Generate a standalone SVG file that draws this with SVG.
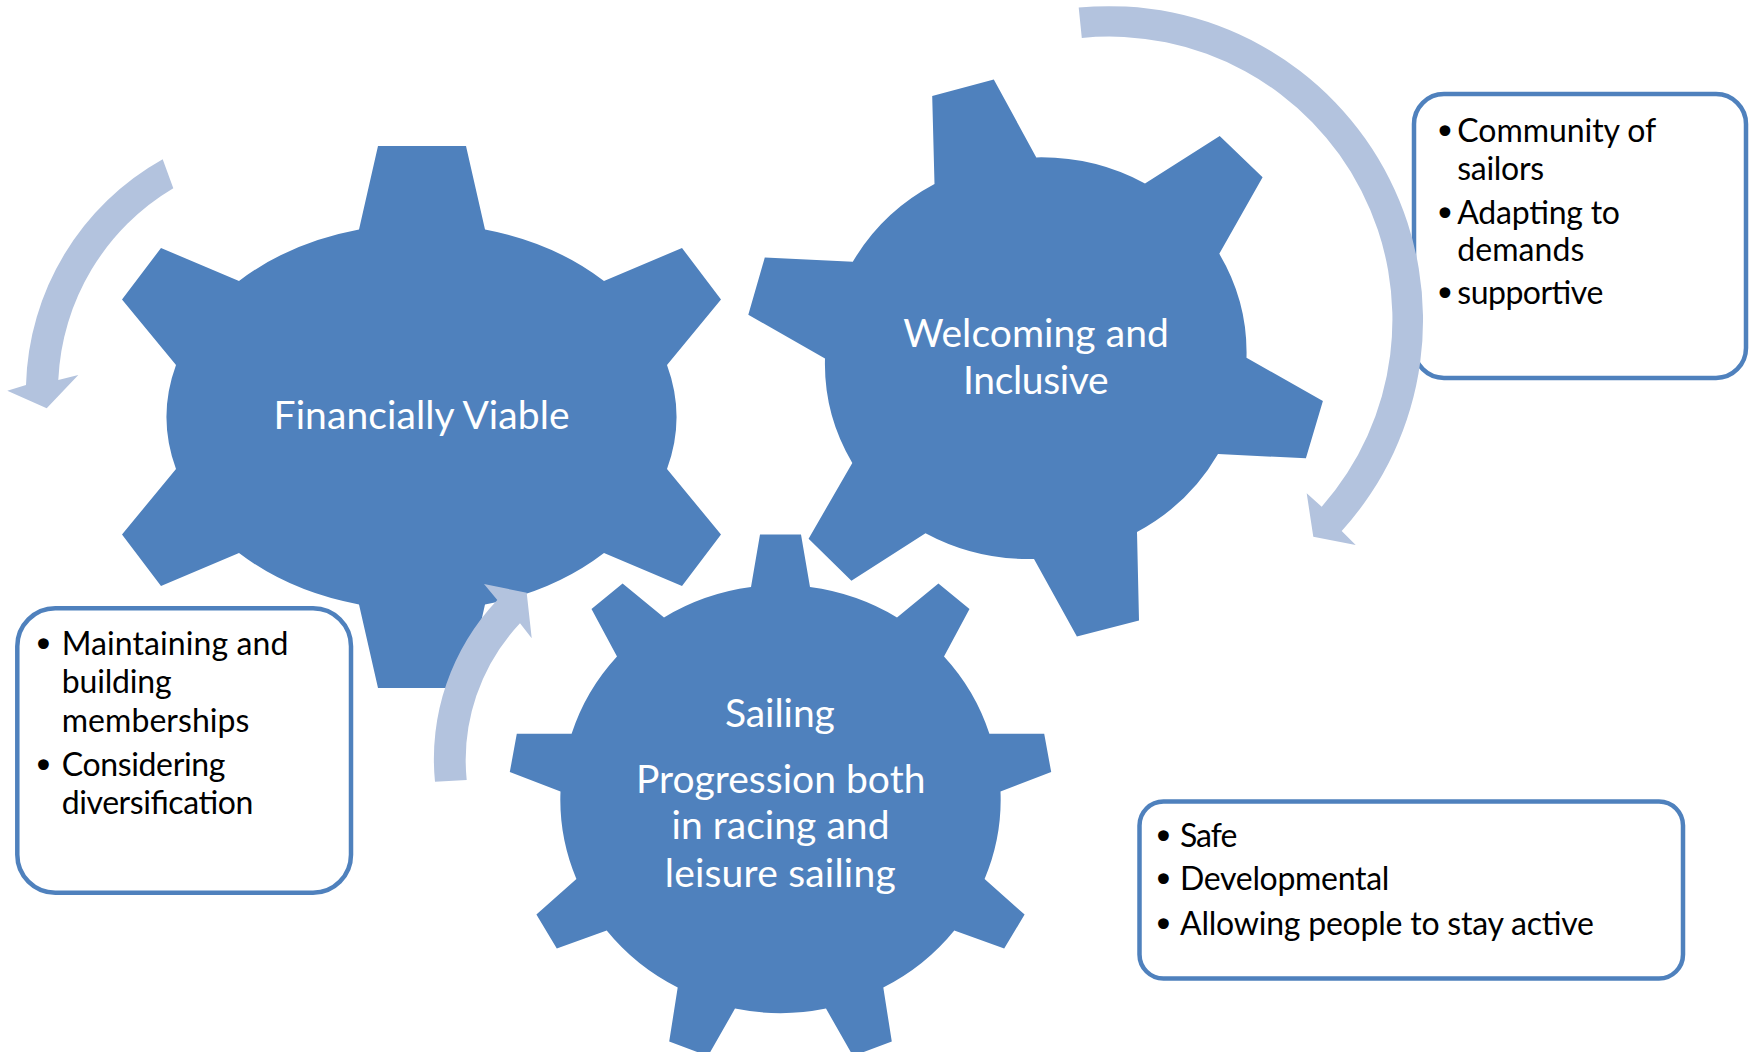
<svg xmlns="http://www.w3.org/2000/svg" width="1754" height="1052" viewBox="0 0 1754 1052">
  <style>
    .gear { fill: #4F81BD; }
    .arrow { fill: #B3C3DE; }
    .box { fill: #FFFFFF; stroke: #4F81BD; stroke-width: 4.5; }
    .gt { font-family: Lato, "Open Sans", sans-serif; font-size: 39px; fill: #FFFFFF; text-anchor: middle; }
    .bt { font-family: Lato, "Open Sans", sans-serif; font-size: 32px; fill: #000000; }
    .bul { font-family: "DejaVu Sans", sans-serif; font-size: 37px; fill: #000000; text-anchor: middle; }
  </style>
  <rect x="0" y="0" width="1754" height="1052" fill="#FFFFFF"/>

  <g id="box-welcoming">
    <rect class="box" x="1414" y="94" width="332" height="284" rx="30" ry="30"/>
    <text class="bul" x="1445" y="144.5">•</text>
    <text class="bt" x="1457.3" y="141.7" textLength="199" lengthAdjust="spacing">Community of</text>
    <text class="bt" x="1457.3" y="180" textLength="86.7" lengthAdjust="spacing">sailors</text>
    <text class="bul" x="1445" y="227">•</text>
    <text class="bt" x="1457.3" y="224" textLength="162.7" lengthAdjust="spacing">Adapting to</text>
    <text class="bt" x="1457.3" y="261" textLength="127" lengthAdjust="spacing">demands</text>
    <text class="bul" x="1445" y="306.5">•</text>
    <text class="bt" x="1457.3" y="303.5" textLength="146" lengthAdjust="spacing">supportive</text>
  </g>

  <g id="box-financial">
    <rect class="box" x="17.3" y="608.3" width="333.7" height="284.4" rx="38" ry="38"/>
    <text class="bul" x="43.3" y="658">•</text>
    <text class="bt" x="61.7" y="655" textLength="226.7" lengthAdjust="spacing">Maintaining and</text>
    <text class="bt" x="61.7" y="693.3" textLength="110" lengthAdjust="spacing">building</text>
    <text class="bt" x="61.7" y="731.7" textLength="187.7" lengthAdjust="spacing">memberships</text>
    <text class="bul" x="43.3" y="778.7">•</text>
    <text class="bt" x="61.7" y="775.7" textLength="163.7" lengthAdjust="spacing">Considering</text>
    <text class="bt" x="61.7" y="813.5" textLength="191.7" lengthAdjust="spacing">diversification</text>
  </g>

  <g id="box-sailing">
    <rect class="box" x="1139.5" y="801.5" width="543.5" height="177" rx="24" ry="24"/>
    <text class="bul" x="1163.3" y="849.7">•</text>
    <text class="bt" x="1180" y="846.7" textLength="57.3" lengthAdjust="spacing">Safe</text>
    <text class="bul" x="1163.3" y="893">•</text>
    <text class="bt" x="1180" y="890" textLength="209.3" lengthAdjust="spacing">Developmental</text>
    <text class="bul" x="1163.3" y="938">•</text>
    <text class="bt" x="1180" y="935" textLength="414" lengthAdjust="spacing">Allowing people to stay active</text>
  </g>

  <g id="gear-financial">
    <path class="gear" d="M359,229.5 L378,146 L466,146 L485,229.5 A255,193.5 0 0 1 604,281 L682,248 L721,299.5 L667,365 A255,193.5 0 0 1 667,469 L721,534.5 L682,586 L604,553 A255,193.5 0 0 1 485,604.5 L466,688 L378,688 L359,604.5 A255,193.5 0 0 1 239,553 L161,586 L122,534.5 L176,469 A255,193.5 0 0 1 176,365 L122,299.5 L161,248 L239,281 A255,193.5 0 0 1 359,229.5 Z"/>
    <text class="gt" x="421.6" y="429" textLength="296" lengthAdjust="spacing">Financially Viable</text>
  </g>

  <g id="gear-welcoming">
    <path class="gear" d="M934.5,184 L932.2,96 L993.8,79.5 L1036.3,157.4 A211,201 0 0 1 1145,183.5 L1219.7,136 L1262.6,177.2 L1219.3,253.8 A211,201 0 0 1 1246.5,357.7 L1322.9,401 L1305.9,458.3 L1218,454 A211,201 0 0 1 1137,532 L1139,620.4 L1076.9,636.4 L1034,559 A211,201 0 0 1 925.5,533.2 L851.4,580.8 L808.6,538.7 L852.3,463 A211,201 0 0 1 825,358.6 L748.3,314.8 L764.8,257.6 L852.8,261.8 A211,201 0 0 1 934.5,184 Z"/>
    <text class="gt" x="1036" y="347.2" textLength="265.6" lengthAdjust="spacing">Welcoming and</text>
    <text class="gt" x="1035.8" y="393.5" textLength="145.6" lengthAdjust="spacing">Inclusive</text>
  </g>

  <g id="gear-sailing">
    <path class="gear" d="M751,587 L760,534.6 L801,534.6 L810,587 A220,211 0 0 1 897,617.4 L938.4,583.5 L969.5,608.9 L944,656.4 A220,211 0 0 1 989.4,733.8 L1044.2,733.8 L1051.2,772.1 L1000.5,791.5 A220,211 0 0 1 984.6,879 L1024.6,914.6 L1004.2,948.6 L954.3,930.6 A220,211 0 0 1 883.3,987.6 L891.8,1041.6 L853,1056 L826,1008.6 A220,211 0 0 1 735,1008.6 L708,1056 L669.2,1041.6 L677.7,987.6 A220,211 0 0 1 606.7,930.6 L556.8,948.6 L536.4,914.6 L576.4,879 A220,211 0 0 1 560.5,791.5 L509.8,772.1 L516.8,733.8 L571.6,733.8 A220,211 0 0 1 617,656.4 L591.5,608.9 L622.6,583.5 L664,617.4 A220,211 0 0 1 751,587 Z"/>
    <text class="gt" x="779.9" y="727" textLength="110" lengthAdjust="spacing">Sailing</text>
    <text class="gt" x="780.7" y="792.5" textLength="289.4" lengthAdjust="spacing">Progression both</text>
    <text class="gt" x="780.5" y="839" textLength="218" lengthAdjust="spacing">in racing and</text>
    <text class="gt" x="780.2" y="887.2" textLength="231" lengthAdjust="spacing">leisure sailing</text>
  </g>

  <g id="connectors">
    <path id="arrow-financial" class="arrow" d="M162.7,159.3 A267,267 0 0 0 26,385 L7.3,390.7 L46.7,408.3 L78.3,375 L58.3,380 A235,235 0 0 1 173.3,188.3 Z"/>
    <path id="arrow-welcoming" class="arrow" d="M1078.7,7.6 A314,314 0 0 1 1341.7,531 L1355.7,545 L1313.3,536.7 L1306.7,493.3 L1321.7,506.7 A283,283 0 0 0 1081.8,37.9 Z"/>
    <path id="arrow-sailing" class="arrow" d="M435,781.7 A231,231 0 0 1 497.3,600 L484,584 L526.7,592.7 L531.7,638.3 L520,623.3 A199.5,199.5 0 0 0 466.7,780 Z"/>
  </g>
</svg>
